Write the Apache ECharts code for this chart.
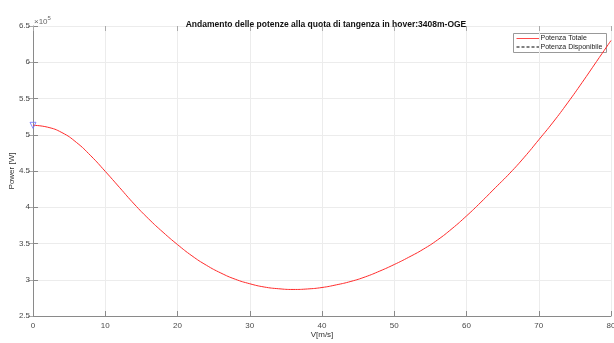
<!DOCTYPE html>
<html><head><meta charset="utf-8">
<script src="https://cdn.jsdelivr.net/npm/echarts@6/dist/echarts.min.js"></script>
<style>html,body{margin:0;padding:0;background:#fff}#c{width:614px;height:343px}</style>
</head><body><div id="c"></div>
<script>
const titleText = 'Andamento delle potenze alla quota di tangenza in hover:3408m-OGE';
const xName = 'V[m/s]';
const yName = 'Power [W]';
const seriesNames = ['Potenza Totale', 'Potenza Disponibile'];
const speed = [0,2,4,6,8,10,12,14,16,18,20,22,24,26,28,30,32,34,36,38,40,42,44,46,48,50,52,54,56,58,60,62,64,66,68,70,72,74,76,78,80];
const powerTot = [5.13,5.105,5.03,4.895,4.71,4.495,4.27,4.045,3.84,3.655,3.485,3.33,3.20,3.093,3.007,2.945,2.90,2.876,2.866,2.873,2.893,2.93,2.977,3.04,3.12,3.21,3.31,3.42,3.55,3.705,3.88,4.07,4.27,4.47,4.69,4.93,5.175,5.44,5.72,6.01,6.30].map(v => v * 1e5);
const powerDisp = [];
const markerPoint = [[0, 5.13e5]];

const chart = echarts.init(document.getElementById('c'), null, {renderer: 'canvas'});
const font = 'Liberation Sans, Arial, sans-serif';
const gridCol = '#ececec';
const axCol = '#8a8a8a';
const lblCol = '#4a4a4a';
const L = 33, R = 611, T = 26, B = 316;
chart.setOption({
  animation: false,
  title: {text: titleText, left: 321, top: 15, textAlign: 'center',
    textStyle: {fontFamily: font, fontSize: 8.5, fontWeight: 'bold', color: '#111'}},
  grid: {left: L, right: 614 - R, top: T, bottom: 343 - B, containLabel: false, outerBoundsMode: 'none'},
  xAxis: [{
    type: 'value', min: 0, max: 80, interval: 10,
    name: xName, nameLocation: 'middle', nameGap: 15, nameMoveOverlap: false,
    nameTextStyle: {fontFamily: font, fontSize: 8, color: '#333'},
    axisLine: {show: true, lineStyle: {color: axCol, width: 1}},
    axisTick: {show: true, inside: true, length: 5, lineStyle: {color: axCol}},
    axisLabel: {fontFamily: font, fontSize: 8, color: lblCol, margin: 6, showMaxLabel: true},
    splitLine: {show: true, lineStyle: {color: gridCol, width: 1}}
  }, {
    type: 'value', min: 0, max: 80, interval: 10, position: 'top',
    axisLine: {show: false}, axisTick: {show: true, inside: true, length: 5, lineStyle: {color: '#aaa'}},
    axisLabel: {show: false}, splitLine: {show: false}
  }],
  yAxis: [{
    type: 'value', min: 2.5e5, max: 6.5e5, interval: 0.5e5,
    name: yName, nameLocation: 'middle', nameGap: 17, nameMoveOverlap: false,
    nameTextStyle: {fontFamily: font, fontSize: 8, color: '#333'},
    axisLine: {show: true, lineStyle: {color: axCol, width: 1}},
    axisTick: {show: true, inside: true, length: 5, lineStyle: {color: axCol}},
    axisLabel: {fontFamily: font, fontSize: 8, color: lblCol, margin: 3,
      formatter: v => String(Math.round(v / 1e4) / 10)},
    splitLine: {show: true, lineStyle: {color: gridCol, width: 1}}
  }, {
    type: 'value', min: 2.5e5, max: 6.5e5, interval: 0.5e5, position: 'right',
    axisLine: {show: false}, axisTick: {show: true, inside: true, length: 5, lineStyle: {color: '#aaa'}},
    axisLabel: {show: false}, splitLine: {show: false}
  }],
  graphic: [{
    type: 'text', left: 34, top: 15,
    style: {text: '{a|×10}{b|5}', rich: {
      a: {fontFamily: font, fontSize: 8, fill: '#666', verticalAlign: 'bottom'},
      b: {fontFamily: font, fontSize: 6, fill: '#666', verticalAlign: 'top', padding: [0,0,5,0]}}}
  }, {
    type: 'group', left: 513, top: 33, z: 100,
    children: [
      {type: 'rect', shape: {x: 0, y: 0, width: 93, height: 19},
        style: {fill: '#fff', stroke: '#999', lineWidth: 1}},
      {type: 'line', shape: {x1: 3, y1: 5, x2: 26, y2: 5}, style: {stroke: '#ff4a4a', lineWidth: 1}},
      {type: 'line', shape: {x1: 3, y1: 13.5, x2: 26, y2: 13.5}, style: {stroke: '#000', lineWidth: 1, lineDash: [3, 2]}},
      {type: 'text', x: 27, y: 5, style: {text: seriesNames[0], fontFamily: font, fontSize: 7, fill: '#222', verticalAlign: 'middle'}},
      {type: 'text', x: 27, y: 13.5, style: {text: seriesNames[1], fontFamily: font, fontSize: 7, fill: '#222', verticalAlign: 'middle'}}
    ]
  }],
  series: [{
    name: seriesNames[0], type: 'line', smooth: true, showSymbol: false, symbol: 'none',
    data: speed.map((v, i) => [v, powerTot[i]]),
    lineStyle: {color: '#ff2a2a', width: 1}, itemStyle: {color: '#ff2a2a'}, z: 3
  }, {
    name: seriesNames[1], type: 'line', showSymbol: false, symbol: 'none',
    data: powerDisp,
    lineStyle: {color: '#000', width: 1, type: 'dashed'}, itemStyle: {color: '#000'}
  }, {
    name: 'marker', type: 'scatter', data: markerPoint, symbol: 'triangle', symbolRotate: 180,
    symbolSize: 6, itemStyle: {color: 'rgba(0,0,0,0)', borderColor: '#7070ff', borderWidth: 1}, z: 5
  }]
});
</script></body></html>
